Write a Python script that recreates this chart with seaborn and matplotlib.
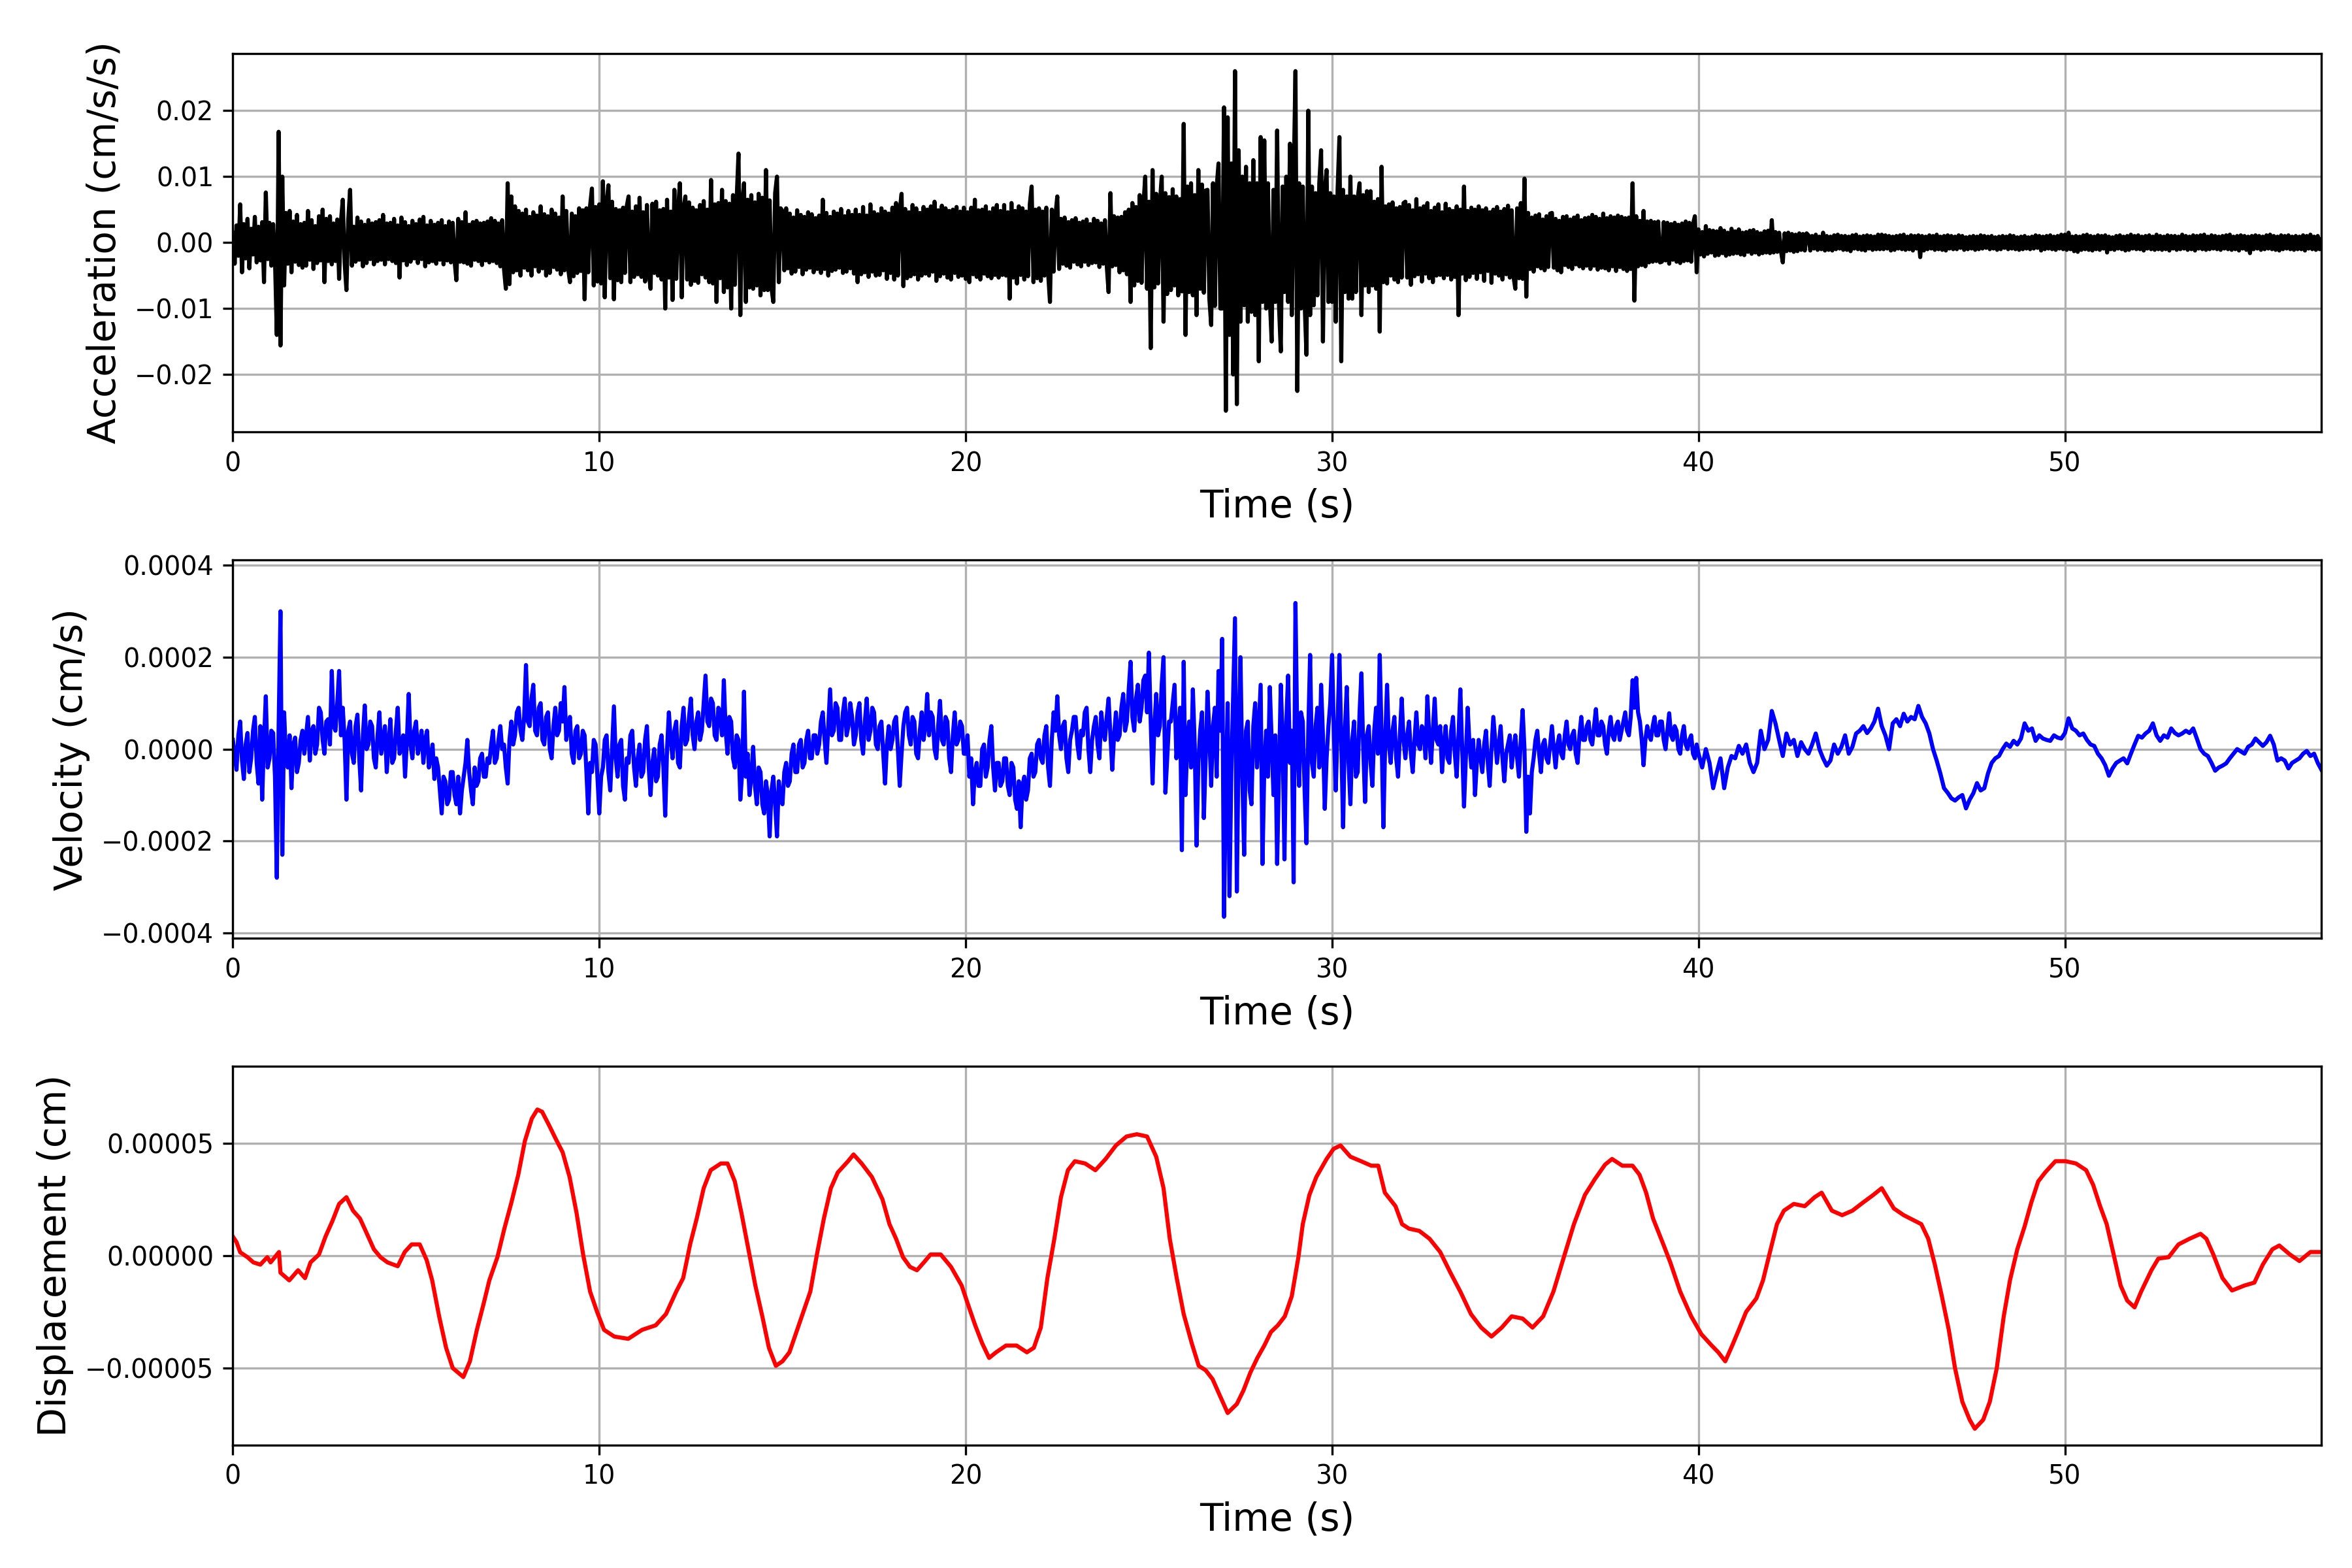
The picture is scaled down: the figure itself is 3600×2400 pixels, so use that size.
import numpy as np
import matplotlib
matplotlib.use('Agg')
import matplotlib.pyplot as plt
import seaborn as sns

## data ------------------------------------------------------------------------------------------

dt_acc = 0.05       # sampling step of the acceleration trace (s)
dt_vel_fast = 0.05  # velocity step for 0-40 s
dt_vel_slow = 0.1   # velocity step for 40-57 s
t_vel_split = 40.0

# acceleration, in units of 0.001 cm/s/s, one row per second
acc_milli = [
    1.5, -3.2, 2.6, -2.0, 5.8, -4.5, 2.8, -2.4, 3.6, -3.9, 2.1, -1.8, 3.9, -3.0, 2.4, -2.7, 3.1, -6.0, 7.6, -2.5,
    3.0, -3.5, 2.8, -2.5, -14.0, 16.8, -15.6, 10.0, -6.5, 4.5, -3.2, 4.8, -4.5, 3.2, -2.9, 4.2, -3.4, 2.8, -3.8, 3.0,
    -3.5, 4.8, -2.6, 3.4, -4.0, 2.5, -3.1, 4.0, -2.7, 5.0, -6.0, 3.6, -2.8, 4.0, -3.3, 2.9, -2.8, 3.5, -5.5, 3.2,
    6.5, -3.0, -7.2, 3.5, 8.0, -3.5, 2.4, -2.9, 3.8, -2.6, 3.2, -3.6, 2.7, -3.1, 3.4, -2.5, 2.9, -3.3, 3.1, -2.8,
    3.4, -2.6, 4.2, -3.3, 2.9, -2.5, 3.0, -2.8, 3.6, -3.1, 2.6, -5.3, 3.8, -2.7, 3.1, -3.4, 2.5, -2.9, 3.3, -2.4,
    2.8, -3.1, 3.5, -2.5, 3.9, -3.6, 2.6, -3.0, 3.3, -2.8, 2.7, -3.2, 3.0, -2.6, 3.4, -3.3, 2.5, -2.7, 3.2, -3.0,
    3.0, -2.7, -5.7, 3.6, -2.9, 3.1, -3.0, 4.6, -3.2, 2.7, -3.5, 3.1, -2.6, 3.3, -2.8, 2.9, -3.4, 3.0, -2.7, 3.2,
    -3.0, 3.7, -2.8, 3.3, -3.1, 2.9, -3.6, 3.4, -4.0, -7.0, 9.0, -6.3, 7.0, -4.5, 5.5, -4.2, 4.8, -5.0, 4.4, -3.8,
    5.0, -4.2, 3.9, -5.0, 4.6, -3.6, 4.1, -4.4, 5.5, -3.9, 4.3, -5.0, 4.0, -4.6, 5.0, -3.7, 4.4, -4.1, 3.8, -4.8,
    7.0, -4.2, 4.8, -3.9, -6.0, 4.4, -5.1, 4.0, -4.6, 5.2, -4.3, 4.9, -8.6, 5.2, -4.5, 5.6, 8.2, -6.5, 5.4, -5.9,
    5.8, -6.2, 9.3, -8.3, 6.0, 8.7, -5.4, 6.2, -8.6, 5.1, -5.7, 4.9, -6.0, 5.3, -4.6, 5.5, 7.0, -6.0, 4.7, -5.2,
    5.5, -4.8, 6.8, -5.2, 4.6, -5.9, 5.7, -4.4, -7.0, 5.9, -4.6, 6.2, -5.0, 4.9, -5.6, 5.1, -10.0, 6.5, -5.3, 4.7,
    -8.7, 8.0, -5.5, 4.9, 9.0, -8.3, 5.2, 7.0, -5.6, 6.1, -6.4, 5.3, -5.8, 4.9, -6.1, 5.7, -4.8, 6.3, -5.3, 5.0,
    -6.0, 9.5, -6.2, 5.8, -9.0, 6.0, -5.4, 8.0, -7.5, 6.3, -6.8, 5.9, -10.0, 7.2, -6.4, 6.6, 13.5, -11.0, 6.1, 9.0,
    -9.0, 6.5, -6.8, 7.2, -7.0, 6.1, -6.5, 7.4, -8.0, 6.8, -7.2, 11.0, -7.2, 6.4, -6.9, -9.0, 7.5, 10.0, -6.0, 5.2,
    4.8, -4.2, 5.2, -3.9, 4.4, -4.7, 3.8, -4.4, 4.9, -3.7, 4.2, -4.8, 3.9, -4.1, 4.6, -3.8, 4.3, -4.5, 3.7, -4.0,
    4.1, -4.6, 6.5, -4.0, 4.5, -5.0, 3.9, -4.3, 4.7, -4.1, 4.4, -3.8, 5.1, -4.6, 4.0, -4.4, 4.8, -3.9, 4.2, -4.7,
    5.0, -6.0, 4.2, -4.8, 5.4, -4.5, 4.1, -5.2, 5.8, -4.4, 4.6, -5.0, 4.3, -4.9, 5.2, -4.2, 4.7, -5.5, 4.4, -4.6,
    5.3, -5.6, 6.0, -5.0, 4.8, 7.4, -6.6, 5.1, -5.4, 4.6, -5.1, 5.7, -4.8, 5.2, -5.6, 4.5, -5.0, 5.4, -4.7, 5.0,
    -5.0, 5.5, -4.4, 6.2, -5.8, 4.9, -5.1, 5.6, -4.7, 5.2, -5.3, 4.8, -5.6, 5.0, -4.6, 5.4, -5.2, 4.7, -5.0, 5.3,
    -5.5, 4.6, -6.0, 5.3, -4.8, 6.5, -5.2, 4.9, -5.6, 5.0, -4.7, 5.5, -5.1, 4.6, -5.4, 5.2, -4.9, 5.7, -5.3, 4.8,
    -4.9, 5.7, -5.0, 4.6, -8.5, 6.0, -5.3, 4.8, -6.2, 5.5, -4.9, 5.2, -5.6, 4.7, -5.1, 5.8, 8.5, -6.0, 5.0, -5.4,
    5.2, -5.8, 4.7, -5.0, 5.3, -4.6, -9.0, 5.0, -4.4, 4.2, 7.0, -4.0, 3.6, -3.2, 3.8, -3.5, 3.1, -3.8, 3.4, -2.9,
    3.7, -3.3, 3.0, -3.6, 3.2, -2.9, 3.5, -3.4, 2.8, -3.1, 3.6, -3.0, 3.3, -3.7, 2.9, -3.2, 3.4, -3.5, -7.5, 7.5,
    -3.6, 4.0, -3.4, 3.8, -4.5, 3.9, -4.2, 4.6, -4.8, 5.0, -9.0, 6.0, -6.5, 5.4, -5.8, 7.2, -6.1, 5.6, 10.0, -7.0,
    6.2, -16.0, 11.0, -6.8, 7.4, -6.2, 5.9, 10.0, -12.0, 7.5, -7.8, 6.9, -7.2, 8.1, -6.5, 7.0, -8.0, 6.6, -7.4, 18.0,
    -14.0, 8.5, -7.5, 9.0, -8.0, 7.2, -11.0, 11.0, -7.0, 8.8, -7.6, 7.9, 8.0, -8.5, -12.5, 9.0, -9.6, 8.4, 12.0, -10.0,
    -10.0, 20.5, -25.5, 19.0, -14.0, 12.0, -20.0, 26.0, -24.5, 14.0, -12.0, 10.0, -9.5, 11.5, -12.0, 9.0, -10.5, 12.5, -11.0, 9.0,
    -18.0, 16.0, -9.0, 15.5, -10.0, 9.0, -8.5, -15.0, 8.0, -9.0, 17.0, -9.5, -16.5, 8.5, -7.5, 10.0, -9.0, 15.0, -11.0, 9.0,
    26.0, -22.5, 9.0, -10.0, 8.5, -9.0, -17.0, 20.0, -11.0, 8.5, -9.5, 7.5, -8.0, 9.0, 14.0, -15.0, 8.0, 11.0, -9.0, 7.5,
    -9.0, 7.0, -12.0, 8.0, 16.0, -18.0, 8.0, -7.5, 7.0, -8.5, 10.0, -8.5, 7.0, -7.5, 6.8, 9.0, -11.0, 7.2, -6.5, 7.8,
    -7.5, 7.8, -6.5, 6.2, -7.0, 6.6, -13.5, 11.5, -6.0, 5.5, -6.2, 5.8, -5.0, 6.1, -5.6, 5.2, -6.0, 5.4, -5.3, 6.0,
    6.2, -5.3, 5.7, -6.4, 4.9, -5.1, 6.6, -4.8, 5.2, -5.9, 5.5, -4.7, 6.0, -5.4, 4.8, -6.0, 5.3, -5.0, 5.8, -4.9,
    4.6, -5.4, 5.9, -4.9, 5.1, -5.6, 4.8, -5.2, 5.5, -11.0, 5.0, -4.7, 8.5, -5.7, 4.8, -5.2, 5.3, -4.6, 5.0, -5.5,
    5.5, -4.5, 4.9, -5.8, 5.2, -4.3, 4.6, -6.1, 5.0, -4.7, 5.4, -5.0, 4.7, -5.6, 5.1, -4.8, 5.6, -5.3, 4.9, -5.1,
    -7.0, 5.2, -5.4, 6.0, -5.5, 9.7, -8.2, 4.5, -4.0, 3.8, -4.4, 4.1, -3.6, 4.3, -3.9, 3.5, -4.2, 4.0, -3.7, 4.4,
    4.5, -3.8, 3.6, -4.2, 3.3, -4.5, 3.9, -3.4, 4.0, -3.7, 3.5, -4.0, 3.8, -3.3, 4.1, -3.6, 3.4, -3.9, 3.7, -3.5,
    3.8, -4.0, 4.2, -3.5, 3.9, -4.1, 3.6, -3.8, 4.4, -3.9, 3.7, -4.2, 4.0, -3.6, 3.8, -4.3, 4.1, -3.7, 3.9, -4.0,
    3.7, -4.3, 3.8, -4.0, 9.0, -8.8, 4.0, -3.6, 3.3, -3.4, 4.8, -3.6, 3.2, -3.0, 3.3, -2.9, 3.1, -2.8, 3.2, -3.0,
    -2.9, 3.1, -2.7, 3.0, -3.2, 2.8, -2.6, 3.0, -2.9, 2.7, -3.1, 2.9, -2.8, 3.2, -2.7, 3.0, -2.9, 2.8, 4.0, -4.5,
    2.0, -1.8, 1.6, -2.1, 2.5, -1.7, 1.9, -1.5, 1.8, -2.0, 1.7, -1.9, 2.2, -1.6, 1.8, -2.0, 1.5, -1.8, 2.1, -1.7,
    1.7, -1.6, 2.0, -1.8, 1.5, -1.9, 1.6, -1.4, 1.8, -1.7, 1.9, -1.5, 1.6, -1.8, 1.4, -1.6, 1.7, -1.5, 1.8, -1.6,
    3.4, -1.5, 1.6, -1.4, 1.5, -1.3, -3.0, 1.4, -1.3, 1.5, -1.2, 1.3, -1.4, 1.2, -1.3, 1.4, -1.1, 1.3, -1.2, 1.4,
    1.1, -1.2, 1.0, -0.9, 1.2, -1.1, 0.9, -1.0, 1.5, -1.2, 1.0, -1.1, 0.9, -1.2, 1.1, -1.0, 1.2, -0.9, 1.0, -1.1,
    1.0, -1.1, 0.9, -1.3, 1.1, -0.9, 1.2, -1.0, 0.9, -1.1, 1.0, -1.2, 1.1, -0.9, 1.0, -1.1, 0.9, -1.0, 1.2, -1.0,
    1.2, -1.0, 1.1, -0.9, 1.0, -1.2, 0.9, -1.1, 1.0, -0.9, 1.1, -1.0, 1.2, -1.1, 0.9, -1.0, 1.1, -1.2, 1.0, -0.9,
    1.1, -2.2, 1.0, -1.2, 0.9, -1.0, 1.1, -0.9, 1.0, -1.1, 1.2, -1.0, 0.9, -1.1, 1.0, -1.2, 1.1, -0.9, 1.0, -1.0,
    0.9, -1.0, 1.1, -0.8, 1.0, -1.1, 0.8, -1.0, 0.9, -0.9, 1.0, -1.1, 0.9, -1.0, 1.1, -0.9, 1.0, -0.8, 0.9, -1.0,
    1.0, -0.9, 0.8, -1.1, 0.9, -1.0, 1.0, -0.8, 0.9, -1.0, 1.1, -0.9, 1.0, -1.0, 0.8, -1.1, 0.9, -1.0, 1.0, -0.9,
    0.8, -1.0, 0.9, -0.9, 1.1, -0.8, 1.0, -1.2, 0.9, -1.0, 1.0, -0.9, 1.1, -1.0, 0.9, -1.1, 1.0, -0.9, 1.2, -1.0,
    1.2, -1.1, 1.5, -1.0, 0.9, -1.3, 1.0, -1.4, 0.9, -1.1, 1.1, -1.0, 1.2, -1.1, 1.0, -1.2, 0.9, -1.0, 1.1, -1.1,
    1.0, -0.9, 1.1, -1.5, 0.9, -1.0, 0.8, -1.1, 1.0, -0.9, 1.1, -1.0, 0.9, -1.2, 1.0, -1.1, 1.2, -0.9, 1.0, -1.0,
    1.1, -1.0, 0.9, -1.2, 1.0, -0.9, 1.1, -1.0, 0.9, -1.1, 1.2, -1.0, 1.0, -1.1, 0.9, -1.0, 1.1, -1.2, 1.0, -0.9,
    1.0, -1.1, 0.9, -1.0, 1.2, -0.9, 1.0, -1.1, 0.9, -1.0, 1.1, -1.2, 1.0, -0.9, 1.1, -1.0, 1.2, -1.1, 0.9, -1.0,
    1.1, -0.9, 1.0, -1.0, 0.9, -1.1, 1.0, -0.9, 1.1, -1.0, 1.2, -1.1, 0.9, -1.0, 1.0, -1.2, 1.1, -0.9, 1.0, -1.1,
    0.9, -1.6, 1.0, -1.0, 1.1, -0.9, 1.0, -1.1, 0.9, -1.0, 1.1, -0.9, 1.2, -1.0, 1.0, -1.1, 0.9, -1.2, 1.1, -1.0,
    1.0, -0.9, 1.1, -1.0, 0.9, -1.1, 1.0, -1.0, 0.9, -1.0, 1.1, -1.2, 1.0, -0.9, 1.2, -1.0, 0.9, -1.1, 1.0, -1.0,
    0.5,
]

# velocity 0-40 s, in units of 1e-5 cm/s, one row per second
vel_e5_fast = [
    2.0, -1.0, -4.5, 3.0, 6.0, -2.5, -6.5, 1.0, 3.5, -5.0, -2.0, 4.0, 7.0, -3.0, -7.5, 5.0, -11.0, 2.0, 11.5, -4.0,
    -2.0, 4.0, 3.5, -6.0, -28.0, 5.0, 30.0, -23.0, 8.0, -2.0, -4.0, 3.0, -8.5, 1.0, 2.5, -5.0, -3.0, 2.0, 4.0, -1.0,
    3.0, 7.0, -2.5, 4.0, 5.0, -1.0, 1.0, 9.0, 8.0, 2.0, -1.0, 6.0, 6.5, 1.0, 17.0, 5.0, 4.0, 10.0, 17.0, 3.0,
    9.0, 2.0, -11.0, 4.0, 6.0, -1.0, -3.0, 5.0, 7.5, -2.0, -9.0, 3.0, 9.5, 0.0, 1.0, 6.0, 5.0, -2.0, -4.0, 3.0,
    8.0, -1.0, 2.0, 5.0, -5.0, 1.0, 6.5, -3.0, -2.0, 4.0, 9.0, -1.0, 0.5, 3.0, -6.0, 2.0, 12.0, 1.0, -2.0, 4.0,
    6.0, -1.0, 1.0, 4.0, -3.0, 2.0, 4.0, -4.0, -2.0, 1.0, -6.5, -2.0, -4.0, -9.0, -14.0, -6.0, -7.0, -12.0, -11.0, -5.0,
    -5.0, -10.0, -12.0, -6.0, -14.0, -9.0, -6.0, -3.0, 2.0, -5.0, -9.0, -12.0, -4.0, -8.0, -7.0, -2.0, -1.0, -6.0, -6.0, -2.0,
    -3.0, 1.0, 4.0, -3.0, -2.0, 2.0, 5.0, 0.0, 1.0, -4.0, -7.5, 2.0, 6.0, 1.0, 3.0, 8.0, 9.0, 4.0, 2.0, 7.0,
    18.3, 6.0, 5.0, 11.0, 14.0, 4.0, 3.0, 9.0, 10.0, 2.0, 1.0, 7.0, 8.0, 0.0, -2.0, 5.0, 9.0, 3.0, 4.0, 10.0,
    6.0, 13.5, 2.0, 5.0, 7.0, -1.0, -3.0, 4.0, 5.0, -2.0, -1.0, 4.0, 3.0, -5.0, -14.0, -3.0, -5.0, 2.0, 1.0, -6.0,
    -14.0, -6.0, -4.0, 2.0, 3.0, -5.0, -9.0, 0.0, 9.3, -2.0, -6.0, 1.0, 2.0, -8.0, -11.0, -2.0, -3.0, 3.0, 4.0, -4.0,
    -8.0, -2.0, 1.0, -6.0, -5.0, 2.0, 5.0, -4.0, -10.0, -3.0, 0.0, -7.0, -6.0, 1.0, 3.0, -4.0, -14.5, 0.0, 8.0, 2.0,
    -2.0, 4.0, 6.0, -3.0, -4.0, 5.0, 9.0, 1.0, 2.0, 7.0, 11.0, 3.0, 0.0, 6.0, 8.0, 2.0, 4.0, 10.0, 16.0, 6.0,
    5.0, 11.0, 10.0, 3.0, 2.0, 9.0, 8.0, 3.0, 15.0, 4.0, -1.0, 7.0, 6.0, -2.0, -4.0, 3.0, 2.0, -11.0, -5.0, 12.5,
    -6.0, -1.0, -10.0, -6.0, 0.5, -8.0, -12.0, -4.0, -5.0, -12.0, -14.0, -7.0, -10.0, -19.0, -9.0, -6.0, -12.0, -19.0, -7.0, -11.0,
    -12.0, -5.0, -3.0, -8.0, -7.0, -1.0, 1.0, -5.0, -5.0, 1.0, 2.0, -4.0, -3.0, 2.0, 4.0, -2.0, -2.0, 3.0, 3.0, -1.0,
    1.0, 6.0, 8.0, 2.0, -3.0, 5.0, 13.0, 3.0, 4.0, 10.0, 9.0, 2.0, 2.0, 8.0, 11.0, 3.0, 5.0, 10.0, 7.0, 1.0,
    3.0, 8.0, 10.0, 2.0, -1.0, 6.0, 11.0, 2.0, 4.0, 9.0, 8.0, 1.0, 0.0, 5.0, 6.0, -1.0, -7.5, 1.0, 5.0, 0.0,
    2.0, 6.0, 7.0, 0.0, -8.0, -1.0, 5.0, 8.0, 9.0, 3.0, 1.0, 7.0, 6.0, -1.0, -2.0, 4.0, 8.0, 2.0, 5.0, 12.0,
    3.0, 8.0, 7.0, 0.0, -2.0, 5.0, 10.5, 2.0, 1.0, 7.0, 6.0, -2.0, -5.0, 3.0, 8.0, 1.0, 2.0, 6.0, 5.0, -1.0,
    -1.0, 3.0, -6.0, -2.0, -12.0, -5.0, -3.0, -8.0, -8.0, 0.0, 1.0, -6.0, -4.0, 2.0, 5.0, -4.0, -9.0, -3.0, -3.0, -8.0,
    -7.0, -2.0, -2.0, -8.0, -10.0, -3.0, -4.0, -11.0, -13.0, -7.0, -17.0, -8.0, -6.0, -11.0, -9.0, -2.0, -1.0, -6.0, -5.0, 1.0,
    2.0, -2.0, -3.0, 3.0, 5.0, -4.0, -8.0, 2.0, 8.0, 4.0, 11.5, 3.0, 0.0, 5.0, 6.0, -2.0, -5.0, 2.0, 4.0, 7.0,
    7.0, 1.0, -2.0, 4.0, 3.0, 8.0, 9.0, 0.0, -5.0, 2.0, 5.0, 7.0, 1.0, -2.0, 8.0, 4.0, 2.0, 7.0, 11.0, 3.0,
    -4.5, 3.0, 8.0, 2.0, 3.0, 9.0, 12.0, 4.0, 6.0, 13.0, 19.0, 7.0, 4.0, 11.0, 14.0, 6.0, 9.0, 15.0, 16.0, 8.0,
    21.0, 6.0, -7.5, 5.0, 12.0, 3.0, 5.0, 14.0, 20.0, -9.5, -2.0, 6.0, 6.0, 10.0, 14.0, -2.0, 3.0, 9.0, -22.0, 19.0,
    -10.0, 2.0, 6.0, -4.0, 13.0, 1.0, -21.0, -3.0, 4.0, 8.0, -15.0, -2.0, 12.5, 3.0, -8.0, 5.0, 9.0, -6.0, 17.0, 4.0,
    24.0, -36.5, -8.0, 10.0, -32.0, -5.0, 12.0, 28.5, -31.0, 2.0, 20.0, -6.0, -23.0, 4.0, 6.0, -9.0, -12.0, 5.0, 10.0, -4.0,
    5.0, 14.0, -25.0, -4.0, 4.0, -6.0, 13.5, 2.0, -10.0, 3.0, -25.0, -5.0, 14.0, 2.0, -24.0, 6.0, 16.0, -3.0, 4.0, -29.0,
    31.8, 2.0, -8.0, 8.0, 6.0, -9.0, -20.5, 4.0, 20.5, -3.0, -6.0, 5.0, 9.0, -4.0, 14.0, 3.0, -13.0, -2.0, 5.0, 10.0,
    20.5, 3.0, -9.0, 5.0, 20.5, 2.0, -17.0, 4.0, 13.5, -3.0, -12.0, 2.0, 6.0, -6.0, -5.0, 8.0, 16.5, 0.0, -11.5, 3.0,
    5.0, -3.0, -8.0, 4.0, 9.0, -1.0, 20.5, 3.0, -17.0, 2.0, 14.0, 1.0, -3.0, 4.0, 7.0, -2.0, -6.0, 3.0, 11.0, 2.0,
    -2.0, 3.0, 6.0, -1.0, -5.0, 2.0, 8.0, 1.0, 0.0, 5.0, 4.0, -2.0, 11.5, 3.0, -3.0, 4.0, 11.0, 2.0, 1.0, 5.0,
    -5.0, 1.0, 5.0, -2.0, -3.0, 4.0, 7.0, -1.0, -6.0, 3.0, 13.0, 0.0, -12.5, -2.0, 9.0, 1.0, -4.0, 2.0, -10.0, -3.0,
    2.0, -2.0, -5.0, 1.0, 4.0, -3.0, -8.0, 0.0, 7.0, 2.0, -3.0, 1.0, 5.0, -2.0, -7.0, -1.0, 1.0, 3.0, -4.0, 0.0,
    3.0, -2.0, -6.0, 2.0, 8.5, 0.0, -18.0, -6.0, -14.0, -5.0, -2.0, 2.0, 4.0, -1.0, -5.0, 1.0, 2.0, -2.0, -3.0, 1.0,
    5.0, 0.0, -4.0, 1.0, 3.0, -1.0, -2.0, 3.0, 6.0, 1.0, 0.0, 3.0, 4.0, -1.0, -3.0, 3.0, 7.0, 2.0, 2.0, 5.0,
    6.0, 2.0, 1.0, 5.0, 8.7, 3.0, 3.0, 6.0, 5.0, 1.0, -1.0, 4.0, 7.0, 3.0, 2.0, 5.0, 6.0, 2.0, 4.0, 6.0,
    8.0, 4.0, 3.0, 7.0, 15.0, 9.0, 15.5, 8.0, 6.0, 2.0, -3.5, 2.0, 5.0, 3.0, 2.0, 5.0, 7.0, 3.0, 3.0, 6.0,
    6.0, 2.0, 0.0, 4.0, 7.8, 3.0, 2.0, 5.0, 4.0, 0.0, -1.0, 3.0, 5.0, 1.0, 0.0, 2.0, 3.0, -1.0, -2.0, 1.0,
]

# velocity 40-57 s, in units of 1e-5 cm/s, one row per second
vel_e5_slow = [
    -1.0, -4.0, 0.0, -3.0, -8.5, -5.0, -2.0, -8.5, -4.0, -1.5,
    -2.0, 0.7, -1.0, 1.0, -3.0, -5.0, -3.0, 4.0, 0.0, 2.0,
    8.3, 5.6, 2.0, -1.5, 3.4, 1.0, 2.0, -1.5, 1.5, 0.0,
    -1.0, 1.0, 3.4, 0.0, -2.0, -3.6, -2.5, 1.0, -1.0, 0.5,
    3.0, -1.0, 0.5, 3.4, 4.0, 5.0, 3.5, 4.5, 6.0, 8.8,
    5.0, 3.0, 0.0, 5.6, 6.5, 5.0, 7.7, 6.0, 7.0, 6.5,
    9.4, 7.0, 5.6, 3.4, 0.0, -2.5, -5.3, -8.5, -9.5, -10.7,
    -11.2, -10.5, -10.0, -12.9, -11.0, -9.6, -7.4, -9.0, -8.5, -5.3,
    -3.0, -2.0, -1.5, 0.0, 1.2, 0.5, 1.8, 1.0, 2.3, 5.6,
    4.0, 4.5, 1.8, 3.0, 2.3, 2.0, 1.8, 3.0, 2.5, 2.3,
    3.5, 6.7, 4.5, 4.0, 3.0, 3.4, 2.0, 1.0, 0.7, -1.0,
    -2.0, -3.5, -5.8, -4.2, -3.0, -2.5, -2.0, -3.1, -1.0, 1.0,
    2.9, 2.5, 3.4, 4.0, 5.6, 3.0, 1.8, 3.0, 2.5, 4.5,
    3.5, 3.0, 3.4, 4.0, 3.5, 4.5, 2.3, 0.0, -1.0, -1.5,
    -3.0, -4.7, -4.0, -3.6, -3.1, -2.0, -1.0, 0.0, -0.5, -1.0,
    0.5, 1.0, 2.3, 1.5, 0.7, 1.5, 2.9, 1.0, -2.5, -2.0,
    -2.5, -4.2, -3.0, -2.5, -2.0, -1.0, -0.4, -1.5, -1.0, -3.0,
    -4.5,
]

# displacement, in units of 1e-5 cm, at the times
disp_time = [
    0, 0.1, 0.2, 0.4, 0.56, 0.75, 0.94, 1.03, 1.26, 1.3, 1.54, 1.78, 1.97, 2.12, 2.35, 2.53,
    2.72, 2.9, 3.1, 3.28, 3.47, 3.66, 3.85, 4.03, 4.22, 4.5, 4.69, 4.88, 5.1, 5.29, 5.44, 5.63,
    5.82, 6.0, 6.29, 6.47, 6.66, 6.85, 7.0, 7.22, 7.41, 7.6, 7.79, 7.97, 8.16, 8.31, 8.44, 8.63,
    8.81, 9.0, 9.19, 9.38, 9.56, 9.75, 9.94, 10.13, 10.41, 10.79, 11.17, 11.54, 11.82, 12.1,
    12.29, 12.48, 12.66, 12.85, 13.04, 13.32, 13.5, 13.7, 13.88, 14.07, 14.26, 14.45, 14.63,
    14.82, 15.0, 15.19, 15.38, 15.57, 15.76, 15.94, 16.13, 16.32, 16.51, 16.79, 16.94, 17.16,
    17.44, 17.73, 17.92, 18.1, 18.29, 18.48, 18.67, 18.86, 19.04, 19.32, 19.6, 19.89, 20.08,
    20.26, 20.45, 20.64, 20.83, 21.1, 21.39, 21.67, 21.86, 22.05, 22.23, 22.42, 22.6, 22.79,
    22.98, 23.26, 23.54, 23.82, 24.1, 24.39, 24.67, 24.95, 25.2, 25.4, 25.57, 25.76, 25.95,
    26.17, 26.36, 26.55, 26.74, 26.93, 27.15, 27.4, 27.58, 27.77, 27.96, 28.15, 28.33, 28.52,
    28.71, 28.9, 29.08, 29.2, 29.38, 29.57, 29.85, 30.04, 30.23, 30.5, 30.79, 31.07, 31.26,
    31.44, 31.73, 31.91, 32.1, 32.38, 32.66, 32.95, 33.23, 33.5, 33.79, 34.07, 34.35, 34.63,
    34.9, 35.2, 35.47, 35.76, 36.04, 36.3, 36.6, 36.9, 37.17, 37.45, 37.64, 37.92, 38.2, 38.39,
    38.57, 38.76, 39.04, 39.23, 39.5, 39.8, 40.08, 40.36, 40.54, 40.73, 40.92, 41.1, 41.3,
    41.58, 41.76, 41.95, 42.14, 42.33, 42.6, 42.9, 43.17, 43.36, 43.64, 43.92, 44.2, 44.48,
    44.77, 45.0, 45.33, 45.6, 45.9, 46.08, 46.27, 46.45, 46.64, 46.83, 47.0, 47.2, 47.4, 47.54,
    47.77, 47.95, 48.14, 48.33, 48.5, 48.7, 48.9, 49.08, 49.27, 49.46, 49.74, 50.02, 50.3,
    50.58, 50.77, 50.96, 51.14, 51.33, 51.52, 51.7, 51.9, 52.08, 52.36, 52.55, 52.83, 53.1,
    53.4, 53.7, 53.86, 54.05, 54.3, 54.56, 54.9, 55.17, 55.4, 55.66, 55.85, 56.14, 56.4, 56.7,
    57.0,
]
disp_e5 = [
    0.85, 0.6, 0.15, -0.07, -0.3, -0.4, -0.07, -0.3, 0.16, -0.76, -1.1, -0.65, -1.0, -0.3, 0.05, 0.85,
    1.55, 2.3, 2.6, 2.0, 1.65, 0.97, 0.28, -0.07, -0.3, -0.47, 0.16, 0.5, 0.5, -0.2, -1.1, -2.7,
    -4.1, -5.0, -5.4, -4.7, -3.3, -2.1, -1.1, -0.07, 1.2, 2.35, 3.6, 5.1, 6.1, 6.5, 6.4, 5.8,
    5.2, 4.6, 3.5, 1.9, 0.05, -1.6, -2.5, -3.3, -3.6, -3.7, -3.3, -3.1, -2.6, -1.6,
    -1.0, 0.5, 1.65, 3.0, 3.8, 4.1, 4.1, 3.3, 1.9, 0.28, -1.33, -2.7, -4.1,
    -4.9, -4.7, -4.3, -3.4, -2.5, -1.6, 0.05, 1.65, 3.0, 3.7, 4.2, 4.5, 4.1,
    3.5, 2.5, 1.4, 0.75, -0.07, -0.5, -0.65, -0.3, 0.05, 0.05, -0.5, -1.33, -2.25,
    -3.1, -3.9, -4.55, -4.3, -4.0, -4.0, -4.3, -4.1, -3.2, -1.0, 0.75, 2.6, 3.8,
    4.2, 4.1, 3.8, 4.3, 4.9, 5.3, 5.4, 5.3, 4.4, 3.0, 0.75, -1.0, -2.6,
    -3.9, -4.9, -5.1, -5.5, -6.2, -7.0, -6.6, -6.0, -5.2, -4.55, -4.0, -3.4, -3.1,
    -2.7, -1.8, -0.07, 1.4, 2.7, 3.5, 4.3, 4.75, 4.9, 4.4, 4.2, 4.0, 4.0,
    2.8, 2.2, 1.4, 1.2, 1.1, 0.75, 0.16, -0.76, -1.6, -2.6, -3.2, -3.6, -3.2,
    -2.7, -2.8, -3.2, -2.7, -1.6, -0.2, 1.4, 2.7, 3.4, 4.05, 4.3, 4.0, 4.0, 3.6,
    2.8, 1.65, 0.5, -0.3, -1.6, -2.7, -3.5, -4.0, -4.3, -4.7, -4.0, -3.3, -2.5,
    -1.9, -1.1, 0.16, 1.4, 2.0, 2.3, 2.2, 2.6, 2.8, 2.0, 1.8, 2.0, 2.35,
    2.7, 3.0, 2.1, 1.8, 1.55, 1.4, 0.75, -0.4, -1.8, -3.3, -5.0, -6.5, -7.3, -7.7,
    -7.3, -6.5, -5.0, -2.7, -1.1, 0.28, 1.3, 2.35, 3.3, 3.7, 4.2, 4.2, 4.1,
    3.8, 3.15, 2.2, 1.4, 0.05, -1.33, -2.0, -2.3, -1.6, -0.65, -0.13, -0.07, 0.5,
    0.75, 0.97, 0.75, 0.05, -1.0, -1.55, -1.33, -1.2, -0.4, 0.28, 0.45, 0.05, -0.24, 0.16,
    0.16,
]

## unit conversion ----------------------------------------------------------------------------------

acc = np.array(acc_milli) * 1e-3
vel = np.array(vel_e5_fast + vel_e5_slow) * 1e-5
disp = np.array(disp_e5) * 1e-5
t_acc = np.arange(len(acc)) * dt_acc
t_vel = np.concatenate([np.arange(len(vel_e5_fast)) * dt_vel_fast,
                        t_vel_split + np.arange(len(vel_e5_slow)) * dt_vel_slow])
t_disp = np.array(disp_time)

## plot ---------------------------------------------------------------------------------------------

f, (ax1, ax2, ax3) = plt.subplots(3, 1, figsize=(12, 8))
f.subplots_adjust(left=0.099, right=0.987, top=0.966, bottom=0.0785, hspace=0.338)

sns.lineplot(x=t_acc, y=acc, ax=ax1, color='black', lw=1.5, estimator=None)
sns.lineplot(x=t_vel, y=vel, ax=ax2, color='blue', lw=1.5, estimator=None)
sns.lineplot(x=t_disp, y=disp, ax=ax3, color='red', lw=1.5, estimator=None)

ax1.set_ylim(-0.0287, 0.0287)
ax1.set_yticks([-0.02, -0.01, 0.0, 0.01, 0.02])
ax2.set_ylim(-0.000412, 0.000412)
ax2.set_yticks([-0.0004, -0.0002, 0.0, 0.0002, 0.0004])
ax3.set_ylim(-0.0000842, 0.0000842)
ax3.set_yticks([-0.00005, 0.0, 0.00005])
ax3.ticklabel_format(axis='y', style='plain', useOffset=False)

ylabels = ['Acceleration (cm/s/s)', 'Velocity (cm/s)', 'Displacement (cm)']
for ax, lab in zip((ax1, ax2, ax3), ylabels):
    ax.set_xlim(0, 57)
    ax.set_xticks([0, 10, 20, 30, 40, 50])
    ax.grid(True, color='#b0b0b0', lw=0.8)
    ax.set_axisbelow(True)
    ax.set_xlabel('Time (s)', fontsize=14)
    ax.set_ylabel(lab, fontsize=14)
    ax.tick_params(labelsize=9.5)

f.savefig('out.png', dpi=300)
